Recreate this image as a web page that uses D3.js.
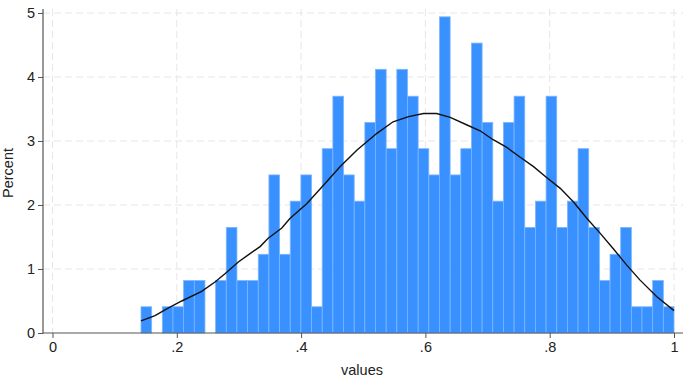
<!DOCTYPE html>
<html lang="en">
<head>
    <meta charset="UTF-8">
    <title>Histogram of values</title>
    <style>
        body {
            margin: 0;
            background: #fff;
            font-family: "Liberation Sans", Arial, sans-serif;
        }
        #chart {
            width: 685px;
            height: 377px;
        }
    </style>
</head>
<body>
    <div id="chart"></div>

    <script src="https://d3js.org/d3.v7.min.js"></script>
    <script>
        // 50 bins between the minimum and the maximum of the variable
        const binStart = 0.1424;
        const binEnd = 1.0;
        const percents = [
            0.41, 0, 0.41, 0.41, 0.82, 0.82, 0, 0.82, 1.65, 0.82,
            0.82, 1.23, 2.47, 1.23, 2.06, 2.47, 0.41, 2.88, 3.70, 2.47,
            2.06, 3.29, 4.12, 2.88, 4.12, 3.70, 2.88, 2.47, 4.94, 2.47,
            2.88, 4.53, 3.29, 2.06, 3.29, 3.70, 1.65, 2.06, 3.70, 1.65,
            2.06, 2.88, 1.65, 0.82, 1.23, 1.65, 0.41, 0.41, 0.82, 0.41
        ];

        // density curve, rescaled to percent
        const curveX = [0.1424, 0.165, 0.186, 0.208, 0.240, 0.262, 0.278, 0.299, 0.315, 0.334,
                        0.347, 0.369, 0.382, 0.409, 0.436, 0.463, 0.490, 0.522, 0.548, 0.573,
                        0.597, 0.618, 0.640, 0.667, 0.688, 0.709, 0.731, 0.752, 0.774, 0.795,
                        0.817, 0.838, 0.860, 0.881, 0.902, 0.924, 0.945, 0.972, 1.0];
        const curveY = [0.19, 0.27, 0.39, 0.50, 0.65, 0.80, 0.93, 1.11, 1.22, 1.35,
                        1.48, 1.64, 1.79, 2.02, 2.31, 2.60, 2.86, 3.12, 3.30, 3.38,
                        3.43, 3.43, 3.37, 3.25, 3.16, 3.02, 2.90, 2.75, 2.60, 2.43,
                        2.26, 2.05, 1.79, 1.56, 1.32, 1.06, 0.83, 0.57, 0.35];

        const xTicks = [0, 0.2, 0.4, 0.6, 0.8, 1];
        const xTickLabels = ["0", ".2", ".4", ".6", ".8", "1"];
        const yTicks = [0, 1, 2, 3, 4, 5];

        const width = 685, height = 377;
        const axisLeft = 43, axisRight = 683, axisBottom = 333, axisTop = 9;

        const svg = d3.select("#chart")
            .append("svg")
            .attr("width", width)
            .attr("height", height);

        const x = d3.scaleLinear().domain([0, 1]).range([52.5, 674]);
        const y = d3.scaleLinear().domain([0, 5]).range([333, 13]);

        // gridlines
        const grid = svg.append("g")
            .attr("stroke", "#e6e6e6")
            .attr("stroke-width", 1)
            .attr("stroke-dasharray", "7,4");
        grid.selectAll(".gy")
            .data(yTicks.filter(d => d > 0))
            .enter().append("line")
            .attr("x1", axisLeft).attr("x2", axisRight)
            .attr("y1", d => y(d)).attr("y2", d => y(d));
        grid.selectAll(".gx")
            .data(xTicks)
            .enter().append("line")
            .attr("y1", axisTop).attr("y2", axisBottom)
            .attr("x1", d => x(d)).attr("x2", d => x(d));

        // bars
        const binWidth = (binEnd - binStart) / percents.length;
        svg.append("g")
            .selectAll("rect")
            .data(percents)
            .enter().append("rect")
            .attr("x", (d, i) => x(binStart + i * binWidth))
            .attr("width", x(binWidth) - x(0))
            .attr("y", d => y(d))
            .attr("height", d => y(0) - y(d))
            .attr("fill", "#3891ff")
            .attr("stroke", "#7db6ff")
            .attr("stroke-width", 0.8)
            .attr("display", d => d > 0 ? null : "none");

        // density line
        const line = d3.line()
            .x(d => x(d[0]))
            .y(d => y(d[1]));
        svg.append("path")
            .datum(curveX.map((v, i) => [v, curveY[i]]))
            .attr("d", line)
            .attr("fill", "none")
            .attr("stroke", "#111")
            .attr("stroke-width", 1.4);

        // axes
        const yAxis = d3.axisLeft(y).tickValues(yTicks).tickFormat(d3.format("d"))
            .tickSize(5).tickPadding(3);
        const gy = svg.append("g")
            .attr("transform", `translate(${axisLeft},0)`)
            .call(yAxis);
        gy.select(".domain").remove();
        gy.append("line")
            .attr("x1", 0).attr("x2", 0)
            .attr("y1", axisTop).attr("y2", axisBottom + 0.5)
            .attr("stroke", "#555").attr("stroke-width", 1.2);

        const xAxis = d3.axisBottom(x).tickValues(xTicks)
            .tickFormat((d, i) => xTickLabels[i]).tickSize(5).tickPadding(4);
        const gx = svg.append("g")
            .attr("transform", `translate(0,${axisBottom})`)
            .call(xAxis);
        gx.select(".domain").remove();
        gx.append("line")
            .attr("x1", axisLeft).attr("x2", axisRight)
            .attr("y1", 0).attr("y2", 0)
            .attr("stroke", "#555").attr("stroke-width", 1.2);

        svg.selectAll(".tick line").attr("stroke", "#555");
        svg.selectAll(".tick text")
            .attr("fill", "#222")
            .style("font-size", "14.5px")
            .style("font-family", "'Liberation Sans', Arial, sans-serif");

        // titles
        svg.append("text")
            .attr("x", 362).attr("y", 375)
            .attr("text-anchor", "middle")
            .attr("fill", "#222")
            .style("font-size", "14.5px")
            .text("values");

        svg.append("text")
            .attr("transform", "translate(13,173) rotate(-90)")
            .attr("text-anchor", "middle")
            .attr("fill", "#222")
            .style("font-size", "14.5px")
            .text("Percent");
    </script>
</body>
</html>
